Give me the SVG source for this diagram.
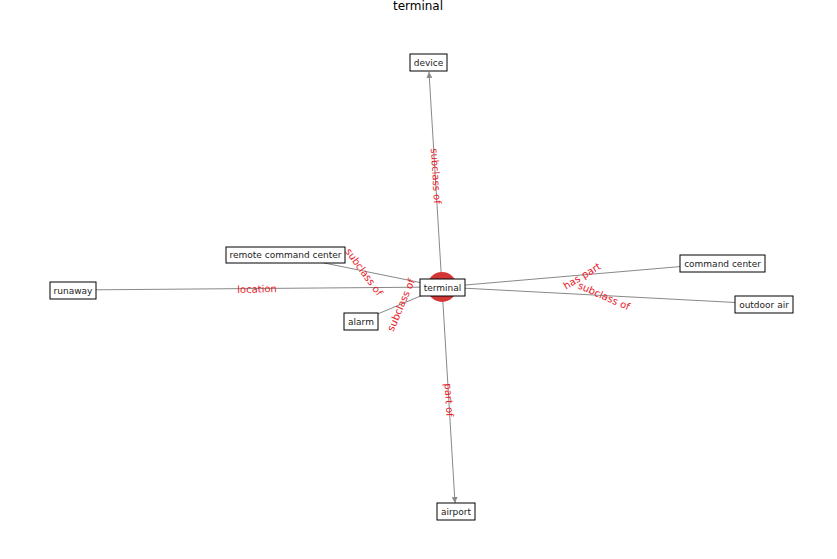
<svg xmlns="http://www.w3.org/2000/svg" width="837" height="559" viewBox="0 0 837 559">
<style>
.box{fill:#fff;stroke:#000;stroke-width:1}
.nt{font-family:"DejaVu Sans",sans-serif;font-size:9px;fill:#222;text-anchor:middle;dominant-baseline:central}
.el{font-family:"DejaVu Sans",sans-serif;font-size:10px;fill:#e8202a;text-anchor:middle;dominant-baseline:central}
.edge{stroke:#888;stroke-width:1;fill:none}
</style>
<defs>
<marker id="arr" viewBox="0 0 10 10" refX="10" refY="5" markerWidth="6" markerHeight="6" orient="auto" markerUnits="userSpaceOnUse">
<path d="M0,0 L10,5 L0,10 z" fill="#888"/>
</marker>
</defs>
<rect width="837" height="559" fill="#fff"/>
<text x="418" y="6" font-family="DejaVu Sans, sans-serif" font-size="12" fill="#000" text-anchor="middle" dominant-baseline="central">terminal</text>
<g id="connectors">
<line class="edge" x1="442" y1="287" x2="429" y2="72" marker-end="url(#arr)"/>
<line class="edge" x1="442" y1="287" x2="455" y2="503" marker-end="url(#arr)"/>
<line class="edge" x1="442" y1="287" x2="285" y2="255"/>
<line class="edge" x1="442" y1="287" x2="73" y2="290"/>
<line class="edge" x1="442" y1="287" x2="361" y2="321"/>
<line class="edge" x1="442" y1="287" x2="722" y2="263"/>
<line class="edge" x1="442" y1="287" x2="764" y2="304"/>
<text class="el" transform="translate(436,176) rotate(86.5)">subclass of</text>
<text class="el" transform="translate(449,400) rotate(86.5)">part of</text>
<text class="el" transform="translate(364,272) rotate(54)">subclass of</text>
<text class="el" transform="translate(257,289) rotate(-1.5)">location</text>
<text class="el" transform="translate(401,305) rotate(-67)">subclass of</text>
<text class="el" transform="translate(582,276) rotate(-31)">has part</text>
<text class="el" transform="translate(604,296) rotate(24)">subclass of</text>
</g>
<g id="terminal">
<circle cx="442" cy="287" r="15" fill="#d43535"/>
<rect class="box" x="420" y="279" width="45" height="17"/>
<text class="nt" x="442.5" y="287.5">terminal</text>
</g>
<g id="device">
<rect class="box" x="410" y="54" width="37" height="17"/>
<text class="nt" x="428.5" y="62.5">device</text>
</g>
<g id="airport">
<rect class="box" x="437" y="503" width="38" height="17"/>
<text class="nt" x="456" y="511.5">airport</text>
</g>
<g id="remote_command_center">
<rect class="box" x="226" y="247" width="119" height="16"/>
<text class="nt" x="285.5" y="255">remote command center</text>
</g>
<g id="runaway">
<rect class="box" x="50" y="282" width="46" height="17"/>
<text class="nt" x="73" y="290.5">runaway</text>
</g>
<g id="alarm">
<rect class="box" x="344" y="313" width="34" height="17"/>
<text class="nt" x="361" y="321.5">alarm</text>
</g>
<g id="command_center">
<rect class="box" x="680" y="255" width="85" height="17"/>
<text class="nt" x="722.5" y="263.5">command center</text>
</g>
<g id="outdoor_air">
<rect class="box" x="735" y="296" width="58" height="17"/>
<text class="nt" x="764" y="304.5">outdoor air</text>
</g>
</svg>
